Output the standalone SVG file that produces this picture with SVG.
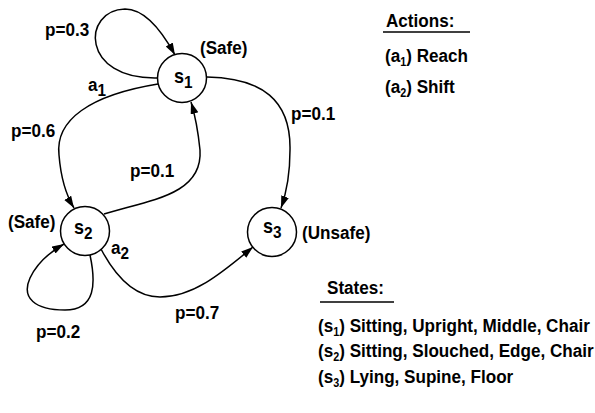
<svg xmlns="http://www.w3.org/2000/svg" width="595" height="413" viewBox="0 0 595 413">
<style>
text { font-family: "Liberation Sans", Arial, Helvetica, sans-serif; font-weight: bold; font-size: 19px; fill: #000; }
.nl { font-size: 20px; }
.ns { font-size: 17px; }
.sub { font-size: 12px; }
.edge { fill: none; stroke: #000; stroke-width: 1.5; }
.node circle { fill: #fff; stroke: #000; stroke-width: 1.5; }
.rule { stroke: #000; stroke-width: 1.5; }
</style>
<defs>
<marker id="arr" markerUnits="userSpaceOnUse" markerWidth="14" markerHeight="10" refX="12" refY="4" orient="auto">
<path d="M0,0 L12,4 L0,8 z" fill="#000"/>
</marker>
</defs>
<rect width="595" height="413" fill="#fff"/>
<g id="connectors">
<path class="edge" marker-end="url(#arr)" d="M158,78 C 80,80 82,10 125,9 C 145,9 163,33 175,55"/>
<path class="edge" marker-end="url(#arr)" d="M158,84 C 90,95 55,120 59,155 C 61,180 66,195 74,208"/>
<path class="edge" marker-end="url(#arr)" d="M104,214 C 150,200 203,195 200,150 C 198,130 195,115 191,102"/>
<path class="edge" marker-end="url(#arr)" d="M207,77 C 262,78 291,100 290,150 C 290,175 286,194 281,208"/>
<path class="edge" marker-end="url(#arr)" d="M101,249 C 120,285 140,297 160,297 C 195,297 225,270 253,247"/>
<path class="edge" marker-end="url(#arr)" d="M90,255 C 96,283 96,310 65,310 C 35,310 21,298 30,278 C 37,263 50,252 64,244"/>
</g>
<g id="s1" class="node">
<circle cx="182" cy="78" r="24.5"/>
<text transform="translate(174,83) scale(0.9,1)"><tspan class="nl">s</tspan><tspan class="ns" dy="5">1</tspan></text>
</g>
<g id="s2" class="node">
<circle cx="85" cy="231" r="24.5"/>
<text transform="translate(74,234) scale(0.9,1)"><tspan class="nl">s</tspan><tspan class="ns" dy="5">2</tspan></text>
</g>
<g id="s3" class="node">
<circle cx="272" cy="232" r="24.5"/>
<text transform="translate(263,233) scale(0.9,1)"><tspan class="nl">s</tspan><tspan class="ns" dy="5">3</tspan></text>
</g>
<g id="labels">
<text transform="translate(200,54) scale(0.9,1)">(Safe)</text>
<text transform="translate(8,228) scale(0.9,1)">(Safe)</text>
<text transform="translate(302,239) scale(0.9,1)">(Unsafe)</text>
<text transform="translate(45,36) scale(0.9,1)">p=0.3</text>
<text transform="translate(88,91) scale(0.9,1)">a<tspan class="ns" dy="5">1</tspan></text>
<text transform="translate(11,137) scale(0.9,1)">p=0.6</text>
<text transform="translate(291,120) scale(0.9,1)">p=0.1</text>
<text transform="translate(130,177) scale(0.9,1)">p=0.1</text>
<text transform="translate(111,254) scale(0.9,1)">a<tspan class="ns" dy="5">2</tspan></text>
<text transform="translate(175,319) scale(0.9,1)">p=0.7</text>
<text transform="translate(36,338) scale(0.9,1)">p=0.2</text>
</g>
<g id="actions">
<text transform="translate(386,27) scale(0.9,1)">Actions:</text>
<line class="rule" x1="383" y1="32" x2="470" y2="32"/>
<text transform="translate(385,62) scale(0.9,1)">(a<tspan class="sub" dy="4">1</tspan><tspan dy="-4">) Reach</tspan></text>
<text transform="translate(385,93) scale(0.9,1)">(a<tspan class="sub" dy="4">2</tspan><tspan dy="-4">) Shift</tspan></text>
</g>
<g id="states">
<text transform="translate(327,294) scale(0.9,1)">States:</text>
<line class="rule" x1="320" y1="302" x2="394" y2="302"/>
<text transform="translate(318,332) scale(0.9,1)">(s<tspan class="sub" dy="4">1</tspan><tspan dy="-4">) Sitting, Upright, Middle, Chair</tspan></text>
<text transform="translate(318,357) scale(0.9,1)">(s<tspan class="sub" dy="4">2</tspan><tspan dy="-4">) Sitting, Slouched, Edge, Chair</tspan></text>
<text transform="translate(318,383) scale(0.9,1)">(s<tspan class="sub" dy="4">3</tspan><tspan dy="-4">) Lying, Supine, Floor</tspan></text>
</g>
</svg>
